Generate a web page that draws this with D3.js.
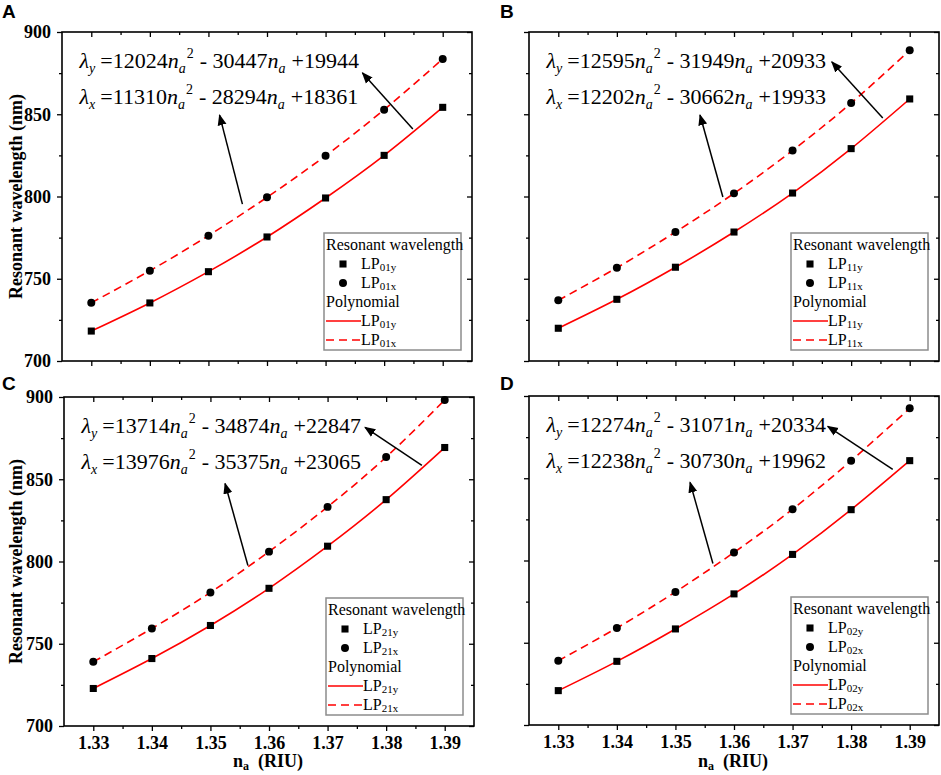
<!DOCTYPE html>
<html>
<head>
<meta charset="utf-8">
<script src="https://cdn.jsdelivr.net/npm/d3@7"></script>
<style>
  body { margin: 0; background: #fff; }
  svg { font-family: "Liberation Serif", "Times New Roman", serif; }
</style>
</head>
<body>
<svg id="chart" width="941" height="775"></svg>
<script>
const naValues = [1.33, 1.34, 1.35, 1.36, 1.37, 1.38, 1.39];
const xTicks = [1.33, 1.34, 1.35, 1.36, 1.37, 1.38, 1.39];
const yTicks = [700, 750, 800, 850, 900];
const panelNames = ["A", "B", "C", "D"];
const modeNames = ["01", "11", "21", "02"];

// resonant wavelength (nm); y = squares, x = circles
const lp01y = [718.2, 735.3, 754.3, 775.4, 799.1, 825.0, 854.2];
const lp01x = [735.4, 754.9, 776.2, 799.5, 824.8, 852.8, 883.6];
const lp11y = [719.9, 737.5, 757.0, 778.4, 802.1, 829.1, 859.3];
const lp11x = [736.9, 756.7, 778.4, 801.9, 828.0, 856.8, 888.9];
const lp21y = [722.8, 741.0, 761.1, 783.7, 809.3, 837.6, 869.3];
const lp21x = [739.0, 759.3, 781.2, 806.0, 833.2, 863.5, 898.2];
const lp02y = [720.9, 738.7, 758.4, 779.7, 803.7, 830.9, 860.7];
const lp02x = [739.1, 759.0, 780.9, 804.9, 831.2, 860.7, 892.5];

// fit coefficients printed in each panel
const fitY = [["12024", "30447", "19944"], ["12595", "31949", "20933"],
              ["13714", "34874", "22847"], ["12274", "31071", "20334"]];
const fitX = [["11310", "28294", "18361"], ["12202", "30662", "19933"],
              ["13976", "35375", "23065"], ["12238", "30730", "19962"]];

const seriesY = [lp01y, lp11y, lp21y, lp02y];
const seriesX = [lp01x, lp11x, lp21x, lp02x];

// annotation arrows in data units [n1, nm1, n2(tip), nm2(tip)]
const arrowToY = [[1.3849, 841.0, 1.3763, 875.1], [1.3854, 847.7, 1.3767, 881.8],
                  [1.3861, 858.4, 1.3764, 881.6], [1.3871, 855.4, 1.3760, 881.6]];
const arrowToX = [[1.3558, 795.4, 1.3519, 849.5], [1.3581, 799.7, 1.3542, 849.5],
                  [1.3564, 797.6, 1.3525, 847.4], [1.3564, 798.2, 1.3525, 847.5]];

const panelBoxes = [{x: 62, y: 32}, {x: 529, y: 32}, {x: 64, y: 397}, {x: 529, y: 396}];
const plotW = 410, plotH = 329;
const RED = "#ff0000";

const svg = d3.select("#chart");

svg.append("defs").append("marker")
    .attr("id", "arrowhead")
    .attr("viewBox", "0 -5 10 10")
    .attr("refX", 9).attr("refY", 0)
    .attr("markerWidth", 7.5).attr("markerHeight", 7.5)
    .attr("markerUnits", "strokeWidth")
    .attr("orient", "auto")
  .append("path")
    .attr("d", "M0,-4L10,0L0,4Z")
    .attr("fill", "#000");

const x = d3.scaleLinear().domain([1.325, 1.395]).range([0, plotW]);
const y = d3.scaleLinear().domain([700, 900]).range([plotH, 0]);

const xMinor = d3.range(1.335, 1.39, 0.01);
const yMinor = d3.range(725, 900, 50);

function styleAxis(g) {
    g.select(".domain").remove();
    g.selectAll("line").attr("stroke", "#000").attr("stroke-width", 1.3);
    g.selectAll("text")
        .style("font-family", "'Liberation Serif', serif")
        .attr("font-weight", "bold")
        .attr("font-size", 18)
        .attr("fill", "#000");
}

// write an equation line: λ_s =A n_a^2 - B n_a +C
function equation(g, px, py, sub, c) {
    const t = g.append("text").attr("x", px).attr("y", py)
        .attr("font-size", 22).attr("fill", "#000");
    t.append("tspan").attr("font-style", "italic").text("λ");
    t.append("tspan").attr("font-style", "italic").attr("font-size", 14).attr("dy", 5).text(sub);
    t.append("tspan").attr("dy", -5).attr("dx", 5).text("=" + c[0]);
    t.append("tspan").attr("font-style", "italic").text("n");
    t.append("tspan").attr("font-style", "italic").attr("font-size", 14).attr("dy", 5).text("a");
    t.append("tspan").attr("font-size", 14).attr("dy", -15).attr("dx", 1).text("2");
    t.append("tspan").attr("dy", 10).attr("dx", 6).text("- " + c[1]);
    t.append("tspan").attr("font-style", "italic").text("n");
    t.append("tspan").attr("font-style", "italic").attr("font-size", 14).attr("dy", 5).text("a");
    t.append("tspan").attr("dy", -5).attr("dx", 6).text("+" + c[2]);
}

function lpLabel(g, px, py, mode) {
    const t = g.append("text").attr("x", px).attr("y", py)
        .attr("font-size", 16).attr("fill", "#000");
    t.append("tspan").text("LP");
    t.append("tspan").attr("font-size", 11).attr("dy", 2).text(mode);
}

panelNames.forEach((name, i) => {
    const box = panelBoxes[i];
    const col = i % 2, row = Math.floor(i / 2);
    const g = svg.append("g").attr("transform", `translate(${box.x},${box.y})`);

    // panel letter
    svg.append("text")
        .attr("x", col === 0 ? 2 : 500)
        .attr("y", row === 0 ? 18 : 390)
        .style("font-family", "'Liberation Sans', Arial, sans-serif")
        .attr("font-weight", "bold")
        .attr("font-size", 19)
        .text(name);

    // axes: left/bottom outward, top/right inward
    const left = g.append("g").call(d3.axisLeft(y).tickValues(yTicks).tickSize(5).tickPadding(6)
        .tickFormat(col === 0 ? d3.format("d") : () => ""));
    styleAxis(left);
    const leftMinor = g.append("g").call(d3.axisLeft(y).tickValues(yMinor).tickSize(3).tickFormat(""));
    styleAxis(leftMinor);
    const right = g.append("g").attr("transform", `translate(${plotW},0)`)
        .call(d3.axisLeft(y).tickValues(yTicks).tickSize(5).tickFormat(""));
    styleAxis(right);
    const rightMinor = g.append("g").attr("transform", `translate(${plotW},0)`)
        .call(d3.axisLeft(y).tickValues(yMinor).tickSize(3).tickFormat(""));
    styleAxis(rightMinor);

    const bottom = g.append("g").attr("transform", `translate(0,${plotH})`)
        .call(d3.axisBottom(x).tickValues(xTicks).tickSize(5).tickPadding(5)
        .tickFormat(row === 1 ? d3.format(".2f") : () => ""));
    styleAxis(bottom);
    const bottomMinor = g.append("g").attr("transform", `translate(0,${plotH})`)
        .call(d3.axisBottom(x).tickValues(xMinor).tickSize(3).tickFormat(""));
    styleAxis(bottomMinor);
    const top = g.append("g").call(d3.axisBottom(x).tickValues(xTicks).tickSize(5).tickFormat(""));
    styleAxis(top);
    const topMinor = g.append("g").call(d3.axisBottom(x).tickValues(xMinor).tickSize(3).tickFormat(""));
    styleAxis(topMinor);

    g.append("rect")
        .attr("width", plotW).attr("height", plotH)
        .attr("fill", "none").attr("stroke", "#000").attr("stroke-width", 1.6);

    // axis titles
    if (col === 0) {
        svg.append("text")
            .attr("transform", `translate(${22},${box.y + plotH / 2}) rotate(-90)`)
            .attr("text-anchor", "middle")
            .attr("font-weight", "bold")
            .attr("font-size", 18)
            .text("Resonant wavelength (nm)");
    }
    if (row === 1) {
        const t = svg.append("text")
            .attr("x", box.x + plotW / 2 - 1)
            .attr("y", 767)
            .attr("text-anchor", "middle")
            .attr("font-weight", "bold")
            .attr("font-size", 18);
        t.append("tspan").text("n");
        t.append("tspan").attr("font-size", 12).attr("dy", 3).text("a");
        t.append("tspan").attr("dy", -3).text("\u00a0 (RIU)");
    }

    // fitted curves through the points
    const line = d3.line().x((d, k) => x(naValues[k])).y(d => y(d)).curve(d3.curveNatural);
    g.append("path").datum(seriesY[i])
        .attr("d", line).attr("fill", "none")
        .attr("stroke", RED).attr("stroke-width", 1.6);
    g.append("path").datum(seriesX[i])
        .attr("d", line).attr("fill", "none")
        .attr("stroke", RED).attr("stroke-width", 1.6)
        .attr("stroke-dasharray", "8,5");

    // data points
    g.selectAll(".sq").data(seriesY[i]).join("path")
        .attr("class", "sq")
        .attr("transform", (d, k) => `translate(${x(naValues[k])},${y(d)})`)
        .attr("d", d3.symbol().type(d3.symbolSquare).size(50))
        .attr("fill", "#000");
    g.selectAll(".ci").data(seriesX[i]).join("path")
        .attr("class", "ci")
        .attr("transform", (d, k) => `translate(${x(naValues[k])},${y(d)})`)
        .attr("d", d3.symbol().type(d3.symbolCircle).size(50))
        .attr("fill", "#000");

    // equations + arrows
    equation(g, x(1.328), y(878), "y", fitY[i]);
    equation(g, x(1.328), y(856), "x", fitX[i]);
    [arrowToY[i], arrowToX[i]].forEach(a => {
        g.append("line")
            .attr("x1", x(a[0])).attr("y1", y(a[1]))
            .attr("x2", x(a[2])).attr("y2", y(a[3]))
            .attr("stroke", "#000").attr("stroke-width", 1.5)
            .attr("marker-end", "url(#arrowhead)");
    });

    // legend
    const lw = 137, lh = 117;
    const lg = g.append("g").attr("transform", `translate(${plotW - 11 - lw},${plotH - 11 - lh})`);
    lg.append("rect").attr("width", lw).attr("height", lh)
        .attr("fill", "#fff").attr("stroke", "#8c8c8c").attr("stroke-width", 1.5);
    lg.append("text").attr("x", 2).attr("y", 17).attr("font-size", 16).text("Resonant wavelength");
    lg.append("path").attr("transform", "translate(19,31)")
        .attr("d", d3.symbol().type(d3.symbolSquare).size(50)).attr("fill", "#000");
    lpLabel(lg, 37, 36, modeNames[i] + "y");
    lg.append("path").attr("transform", "translate(19,50)")
        .attr("d", d3.symbol().type(d3.symbolCircle).size(50)).attr("fill", "#000");
    lpLabel(lg, 37, 55, modeNames[i] + "x");
    lg.append("text").attr("x", 2).attr("y", 74).attr("font-size", 16).text("Polynomial");
    lg.append("line").attr("x1", 2).attr("x2", 37).attr("y1", 88).attr("y2", 88)
        .attr("stroke", RED).attr("stroke-width", 1.6);
    lpLabel(lg, 37, 93, modeNames[i] + "y");
    lg.append("line").attr("x1", 2).attr("x2", 37).attr("y1", 107).attr("y2", 107)
        .attr("stroke", RED).attr("stroke-width", 1.6).attr("stroke-dasharray", "8,5");
    lpLabel(lg, 37, 112, modeNames[i] + "x");
});
</script>
</body>
</html>
